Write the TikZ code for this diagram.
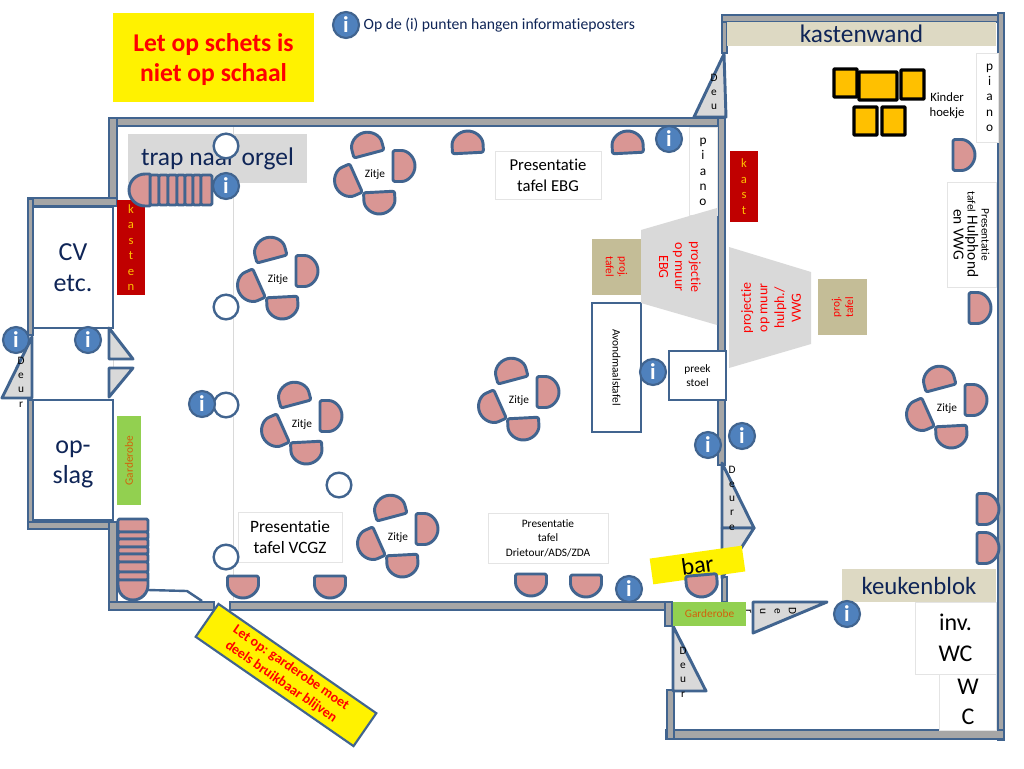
\documentclass[tikz,border=0pt]{standalone}
\usepackage{xcolor}
\usepackage{fontspec}
\setmainfont[Ligatures=NoCommon]{Carlito}
\usetikzlibrary{positioning}

\definecolor{wallblue}{HTML}{41648F}
\definecolor{wallgrey}{HTML}{A6A6A6}
\definecolor{infoblue}{HTML}{4F81BD}
\definecolor{seatpink}{HTML}{D99694}
\definecolor{doorgrey}{HTML}{D9D9D9}
\definecolor{faintline}{HTML}{E4E4E4}
\definecolor{navytext}{HTML}{0F2557}
\definecolor{sandbox}{HTML}{DDD9C3}
\definecolor{projtan}{HTML}{C4BD97}
\definecolor{wardrobe}{HTML}{92D050}
\definecolor{wardtext}{HTML}{D2600A}
\definecolor{kastred}{HTML}{C00000}
\definecolor{toyorange}{HTML}{FFC000}

\tikzset{
    wall/.style={draw=wallblue, fill=wallgrey, line width=2.2pt},
    room/.style={draw=wallblue, fill=white, line width=1.6pt},
    door/.style={draw=wallblue, fill=doorgrey, line width=2.2pt, line join=round},
    seatshape/.style={draw=wallblue, fill=seatpink, line width=2.2pt, line join=round},
    toy/.style={draw=black, fill=toyorange, line width=2.4pt, rounded corners=0.5pt},
    faintbox/.style={draw=faintline, fill=white, line width=0.5pt},
    label/.style={inner sep=0pt, align=center},
    infopt/.style={circle, draw=wallblue, fill=infoblue, line width=1.6pt, inner sep=0pt,
        minimum size=19.5pt, text=white, font=\fontsize{17}{17}\selectfont\bfseries},
    openpt/.style={circle, draw=wallblue, fill=white, line width=1.8pt, inner sep=0pt, minimum size=18.5pt},
    stacked/.style={label, font=\fontsize{8.5}{10.7}\selectfont},
    chairlabel/.style={label, font=\fontsize{8.5}{10}\selectfont}
}

\newcommand{\seat}[3]{\draw[seatshape, rounded corners=1.5pt, shift={(#1,#2)}, rotate=#3] (-15.5,0) -- (-15.5,6.5) arc (180:0:15.5) -- (15.5,0) -- cycle;}
\newcommand{\zitje}[3]{
    \begin{scope}[shift={(#2,#3)}]
        \seat{-6}{-20}{195}
        \seat{18}{-8}{90}
        \seat{4}{18}{3}
        \seat{-19}{4}{294}
        \node[chairlabel] (#1) at (0,1) {Zitje};
    \end{scope}
}

\begin{document}
\begin{tikzpicture}[x=0.75pt, y=-0.75pt]
    \useasboundingbox (0,0) rectangle (1024,768);
    \fill[white] (0,0) rectangle (1024,768);

    % faint lines
    \draw[doorgrey, line width=0.6pt] (233,127) -- (233,600);
    \draw[doorgrey, line width=0.6pt] (113,360) -- (113,368);

    % walls
    \foreach \xa/\ya/\xb/\yb in {110/118/718/126, 109/118/117/199, 28/198/117/206, 28/199/33/335,
        28/400/33/529, 28/522/112/529, 109/522/117/610, 109/602/214/610, 230/602/666/610,
        665/602/672/626, 718/118/725/465, 722/15/727/53, 722/15/1004/22, 998/13/1004/740,
        666/730/1004/739, 667/690/674/739, 722/577/727/602}
        \draw[wall] (\xa,\ya) rectangle (\xb,\yb);

    % rooms on the left
    \draw[room] (33,207) rectangle (113,328) node[midway, label, text=navytext, font=\fontsize{19.5}{23.5}\selectfont] (cvroom) {CV\\etc.};
    \draw[room] (33,400) rectangle (113,520) node[midway, label, yshift=-3.5pt, text=navytext, font=\fontsize{19.5}{22.5}\selectfont] (storeroom) {op-\\slag};

    % doors
    \draw[door] (32,337) -- (2,398) -- (32,398) -- cycle;
    \draw[door] (109,328) -- (109,359) -- (133,359) -- cycle;
    \draw[door] (109,368) -- (133,368) -- (109,397) -- cycle;
    \draw[door] (724,54) -- (694,117) -- (726,117) -- cycle;
    \draw[door] (722,463) -- (722,528) -- (754,528) -- cycle;
    \draw[door] (722,528) -- (754,528) -- (722,578) -- cycle;
    \draw[door] (673,626) -- (706,691) -- (673,691) -- cycle;
    \draw[door] (753,602) -- (827,602) -- (753,633) -- cycle;
    \node[stacked] (doorcv) at (21,382) {D\\e\\u\\r};
    \node[stacked] (doortop) at (714,92) {D\\e\\u};
    \node[stacked] (doorbar) at (732,498) {D\\e\\u\\r\\e};
    \node[stacked] (doorwest) at (683,672) {D\\e\\u\\r};
    \node[stacked, rotate=-90] (doorkitchen) at (771,611) {D\\e\\u\\r};

    % tables and boxes
    \fill[doorgrey] (128,134) rectangle (307,183) node[midway, label, text=navytext, font=\fontsize{19.1}{23}\selectfont] (stairsign) {trap naar orgel};
    \fill[yellow] (113,13) rectangle (314,102) node[midway, label, yshift=-1.8pt, text=red, font=\fontsize{19.2}{22.5}\selectfont\bfseries] (warning) {Let op schets is\\niet op schaal};
    \fill[kastred] (117,200) rectangle (145,295) node[midway, label, text=toyorange, font=\fontsize{9.5}{11.6}\selectfont] (kasten) {k\\a\\s\\t\\e\\n};
    \fill[kastred] (730,151) rectangle (758,222) node[midway, label, text=toyorange, font=\fontsize{9.5}{11.6}\selectfont] (kast) {k\\a\\s\\t};
    \fill[wardrobe] (117,416) rectangle (141,505) node[midway, label, rotate=90, text=wardtext, font=\fontsize{8.5}{10}\selectfont] (wardleft) {Garderobe};
    \fill[wardrobe] (673,602) rectangle (746,626) node[midway, label, text=wardtext, font=\fontsize{8.5}{10}\selectfont] (wardright) {Garderobe};
    \draw[faintbox] (495,151) rectangle (601,199) node[midway, label, font=\fontsize{12.5}{16}\selectfont] (tableebg) {Presentatie\\tafel EBG};
    \draw[faintbox] (238,512) rectangle (342,562) node[midway, label, font=\fontsize{13}{16}\selectfont] (tablevcgz) {Presentatie\\tafel VCGZ};
    \draw[faintbox] (488,513) rectangle (608,563) node[midway, label, font=\fontsize{8.5}{11}\selectfont] (tabledrie) {Presentatie\\tafel\\Drietour/ADS/ZDA};
    \draw[faintbox] (947,182) rectangle (996,287) node[midway, label, rotate=-90, xshift=0pt, font=\fontsize{11.5}{10.5}\selectfont] (tablehulp) {{\fontsize{8.5}{10.5}\selectfont Presentatie}\\{\fontsize{8.5}{10.5}\selectfont tafel} Hulphond\\en VWG};
    \draw[faintbox] (689,127) rectangle (717,215) node[midway, label, yshift=-0.8pt, font=\fontsize{10}{11.5}\selectfont] (pianomain) {p\\i\\a\\n\\o};
    \draw[faintbox] (976,53) rectangle (998,142) node[midway, label, xshift=2pt, font=\fontsize{10}{11.5}\selectfont] (pianoside) {p\\i\\a\\n\\o};
    \draw[room] (592,303) rectangle (641,432) node[midway, label, rotate=-90, font=\fontsize{8.5}{10}\selectfont] (avondmaal) {Avondmaalstafel};
    \draw[room] (669,351) rectangle (726,400) node[midway, label, font=\fontsize{8.5}{10.5}\selectfont] (preek) {preek\\stoel};
    \fill[projtan] (592,239) rectangle (641,295) node[midway, label, rotate=-90, text=red, font=\fontsize{8.5}{10}\selectfont] (projleft) {proj.\\tafel};
    \fill[projtan] (818,279) rectangle (867,335) node[midway, label, rotate=90, text=red, font=\fontsize{8.5}{10}\selectfont] (projright) {proj.\\tafel};
    \fill[doorgrey] (641,230) -- (717,208) -- (717,325) -- (641,303) -- cycle;
    \node[label, rotate=-90, text=red, font=\fontsize{10.5}{12}\selectfont] (beamebg) at (680,267) {projectie\\op muur\\EBG};
    \fill[doorgrey] (729,247) -- (811,272) -- (811,344) -- (729,368) -- cycle;
    \node[label, rotate=90, text=red, font=\fontsize{10.5}{12.5}\selectfont] (beamvwg) at (771,308) {projectie\\op muur\\hulph./\\VWG};
    \fill[sandbox] (727,22) rectangle (996,46) node[midway, label, text=navytext, font=\fontsize{19}{20}\selectfont] (kastenwand) {kastenwand};
    \fill[sandbox] (842,569) rectangle (996,602) node[midway, label, text=navytext, font=\fontsize{18.6}{20}\selectfont] (keuken) {keukenblok};
    \draw[faintbox] (915,602) rectangle (996,674) node[midway, label, font=\fontsize{18}{23}\selectfont] (invwc) {inv.\\WC};
    \draw[faintbox] (939,674) rectangle (996,730);
    \node[label, font=\fontsize{18}{22}\selectfont] (wc) at (968,702) {W\\C};

    % kinderhoek
    \draw[toy] (834,69) rectangle (857,97);
    \draw[toy] (859,72) rectangle (897,100);
    \draw[toy] (901,70) rectangle (924,99);
    \draw[toy] (854,107) rectangle (877,135);
    \draw[toy] (882,107) rectangle (905,135);
    \node[label, font=\fontsize{9.5}{11.5}\selectfont] (kinder) at (947,106) {Kinder\\hoekje};

    % bar and warning
    \node[label, fill=yellow, rotate=8, minimum width=69.7pt, minimum height=19.5pt, font=\fontsize{18}{20}\selectfont] (bar) at (697.5,565) {bar};
    \node[label, draw=wallblue, line width=1.6pt, fill=yellow, rotate=-34.7, minimum width=144pt, minimum height=30pt, text=red, font=\fontsize{10.5}{13}\selectfont\bfseries] (garderobenote) at (286,675) {Let op: garderobe moet\\deels bruikbaar blijven};

    % stairs
    \foreach \xa/\xb in {150/159, 159/168, 168/177, 177/185, 185/193, 193/201, 201/212}
        \draw[seatshape, rounded corners=1pt] (\xa,175) rectangle (\xb,205);
    \draw[seatshape] (150,206) -- (145,206) arc (90:270:16) -- (150,174) -- cycle;
    \foreach \ya/\yb in {519/532, 532/539, 539/547, 547/554, 554/562, 562/572, 572/580}
        \draw[seatshape, rounded corners=1pt] (118,\ya) rectangle (148,\yb);
    \draw[seatshape] (118,580) -- (118,585) arc (180:0:15) -- (148,580) -- cycle;
    \draw[wallblue, line width=1.8pt] (148,590) -- (187,591) -- (202,601);

    % loose seats
    \seat{468}{153}{183}
    \seat{628}{153}{183}
    \seat{953}{155}{90}
    \seat{969}{308}{90}
    \seat{977}{509}{90}
    \seat{977}{548}{90}
    \seat{701}{575}{5}
    \seat{243}{576}{0}
    \seat{330}{576}{0}
    \seat{531}{574}{0}
    \seat{586}{575}{0}

    % seat groups
    \zitje{zitjea}{375}{174}
    \zitje{zitjeb}{278}{279}
    \zitje{zitjec}{302}{424}
    \zitje{zitjed}{519}{400}
    \zitje{zitjee}{398}{537}
    \zitje{zitjef}{947}{408}

    % open points
    \foreach \x/\y [count=\n] in {226/146, 226/307, 226/405, 339/485, 226/557}
        \node[openpt] (spot\n) at (\x,\y) {};

    % info points
    \foreach \x/\y [count=\n] in {346/25, 226/186, 669/139, 16/340, 88/340, 202/404, 653/372, 708/445, 742/436, 629/589, 847/614}
        \node[infopt] (info\n) at (\x,\y) {i};
    \node[label, anchor=west, text=navytext, font=\fontsize{11.75}{14}\selectfont, right=2.5pt of info1] (legend) {Op de (i) punten hangen informatieposters};
\end{tikzpicture}
\end{document}
